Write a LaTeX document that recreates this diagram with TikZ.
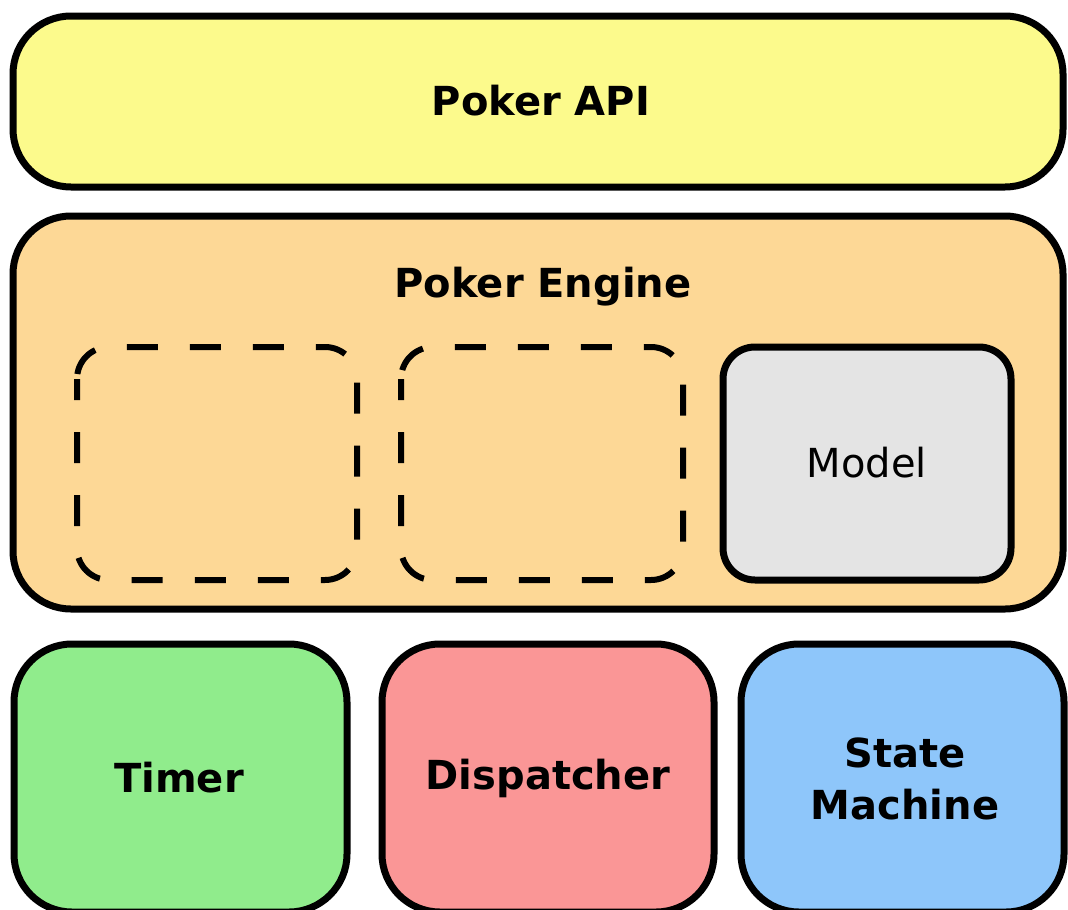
\documentclass[tikz,border=0pt]{standalone}
\usepackage{fontspec}
\setmainfont{DejaVu Sans}
\begin{document}
\begin{tikzpicture}[x=1pt,y=-1pt,
  box/.style={draw=black, line width=7pt, rounded corners=#1, inner sep=0pt},
  box/.default=58pt,
  dbox/.style={draw=black, line width=6pt, rounded corners=32pt, dash pattern=on 31pt off 32pt, dash phase=10pt, inner sep=0pt},
  btext/.style={font=\fontsize{40}{52}\selectfont\bfseries, align=center},
  rtext/.style={font=\fontsize{40}{52}\selectfont, align=center}]
\definecolor{cApi}{RGB}{252,250,140}
\definecolor{cEng}{RGB}{253,216,150}
\definecolor{cTim}{RGB}{144,236,140}
\definecolor{cDis}{RGB}{250,150,150}
\definecolor{cSta}{RGB}{142,198,250}
\definecolor{cMod}{RGB}{228,228,228}
\useasboundingbox (0,0) rectangle (1068,910);
\clip (0,0) rectangle (1068,910);
\fill[white] (0,0) rectangle (1068,910);
% Poker API
\draw[box, fill=cApi] (13,16) rectangle (1063,187);
\node[btext] (api) at (541,101) {Poker API};
% Poker Engine
\draw[box, fill=cEng] (13,216) rectangle (1063,609);
\node[btext] (eng) at (543,287) {Poker Engine};
% inner boxes
\draw[dbox] (77,347) rectangle (357,580);
\draw[dbox] (401,347) rectangle (683,580);
\draw[box=32pt, fill=cMod] (723,347) rectangle (1011,580);
\node[rtext] (model) at (867,463) {Model};
% bottom boxes
\draw[box, fill=cTim] (14,644) rectangle (347,912);
\node[btext] (timer) at (179,778) {Timer};
\draw[box, fill=cDis] (382,644) rectangle (714,912);
\node[btext] (disp) at (548,778) {Dispatcher};
\draw[box, fill=cSta] (741,644) rectangle (1064,912);
\node[btext] (state) at (905,779) {State\\Machine};
\end{tikzpicture}
\end{document}
